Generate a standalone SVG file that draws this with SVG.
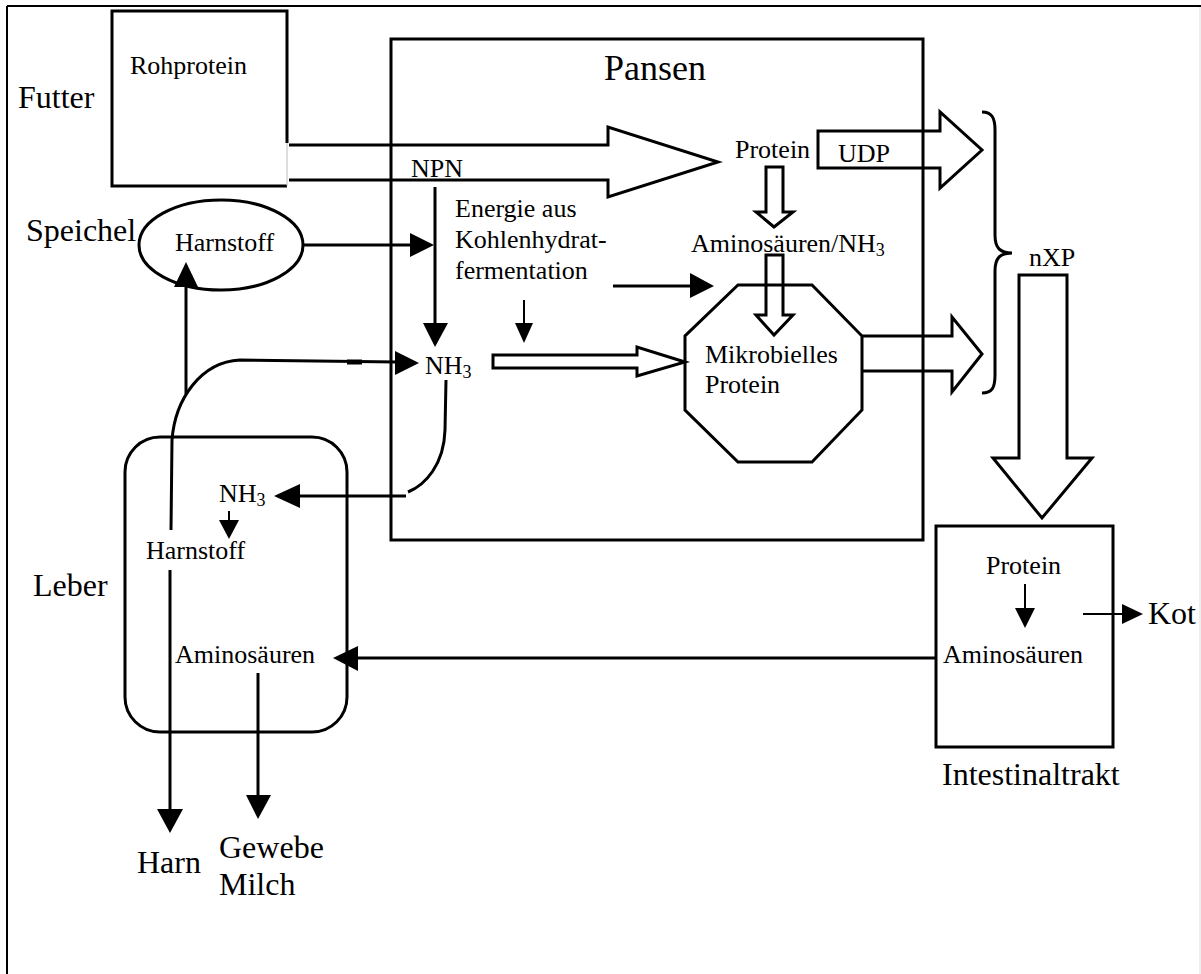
<svg xmlns="http://www.w3.org/2000/svg" width="1201" height="974" viewBox="0 0 1201 974">
<style>
text{font-family:"Liberation Serif","Times New Roman",serif;fill:#000}
.s{font-size:26px}
.l{font-size:32px}
.box{fill:none;stroke:#000;stroke-width:3}
.ln{fill:none;stroke:#000;stroke-width:3}
.thin{fill:none;stroke:#000;stroke-width:2}
.hollow{fill:none;stroke:#000;stroke-width:3;stroke-linejoin:miter}
.head{fill:#000;stroke:none}
</style>
<rect width="1201" height="974" fill="#fff"/>
<g id="frame">
<line x1="7" y1="6" x2="1201" y2="6" stroke="#000" stroke-width="2"/>
<line x1="7" y1="6" x2="7" y2="974" stroke="#000" stroke-width="2"/>
<line x1="1200" y1="7" x2="1200" y2="974" stroke="#ddd" stroke-width="1"/>
</g>
<g id="futter">
<text class="l" x="18" y="108">Futter</text>
<path class="box" d="M287,143 V11 H112 V186 H287"/>
<line x1="287" y1="143" x2="287" y2="186" stroke="#bbb" stroke-width="1"/>
<text class="s" x="130" y="74">Rohprotein</text>
</g>
<g id="pansen">
<rect class="box" x="391" y="39" width="532" height="501"/>
<text x="604" y="80" style="font-size:36px">Pansen</text>
<text class="s" x="411" y="177">NPN</text>
<text class="s" x="455" y="217">Energie aus</text>
<text class="s" x="455" y="248">Kohlenhydrat-</text>
<text class="s" x="455" y="279">fermentation</text>
<text class="s" x="735" y="158">Protein</text>
<text class="s" x="838" y="162">UDP</text>
<text class="s" x="691" y="252">Aminosäuren/NH<tspan font-size="18" dy="4">3</tspan></text>
<text class="s" x="425" y="374">NH<tspan font-size="18" dy="4">3</tspan></text>
</g>
<g id="mikrobielles">
<polygon class="box" points="738,285 812,285 862,336 862,410 812,462 738,462 685,410 685,336"/>
<text class="s" x="705" y="363">Mikrobielles</text>
<text class="s" x="705" y="393">Protein</text>
</g>
<g id="speichel">
<text class="l" x="26" y="241">Speichel</text>
<ellipse class="box" cx="221" cy="245" rx="82" ry="45"/>
<text class="s" x="175" y="251">Harnstoff</text>
</g>
<g id="leber">
<rect class="box" x="125" y="437" width="222" height="295" rx="35" ry="35"/>
<text class="l" x="33" y="596">Leber</text>
<text class="s" x="219" y="502">NH<tspan font-size="18" dy="4">3</tspan></text>
<text class="s" x="146" y="559">Harnstoff</text>
<text class="s" x="175" y="663">Aminosäuren</text>
</g>
<g id="intestinaltrakt">
<rect class="box" x="936" y="526" width="177" height="221"/>
<text class="s" x="986" y="574">Protein</text>
<text class="s" x="943" y="663">Aminosäuren</text>
<text class="l" x="942" y="785">Intestinaltrakt</text>
</g>
<g id="outputs">
<text class="l" x="137" y="873">Harn</text>
<text class="l" x="219" y="858">Gewebe</text>
<text class="l" x="219" y="895">Milch</text>
<text class="l" x="1148" y="624">Kot</text>
<text class="s" x="1029" y="266">nXP</text>
</g>
<g id="connectors">
<path class="hollow" d="M289,145 H608 V127 L718,162 L608,197 V180 H289"/>
<path class="hollow" d="M818,131 H940 V112 L982,150 L940,188 V168 H818 Z"/>
<path class="hollow" d="M862,336 H952 V317 L982,354 L952,392 V371 H862"/>
<path class="hollow" d="M1019,275 H1067 V458 H1092 L1042,518 L993,458 H1019 Z" fill="#fff"/>
<path class="hollow" d="M766,167 H783 V212 H793 L774,227 L756,212 H766 Z"/>
<path class="hollow" d="M766,255 H783 V315 H793 L774,335 L756,315 H766 Z"/>
<path class="hollow" d="M493,355 H637 V347 L685,362 L637,376 V368 H493 Z"/>
<path class="ln" d="M982,112 C992,112 995,118 995,130 V235 C995,248 1000,253 1012,253 C1000,253 995,258 995,271 V375 C995,388 992,393 982,393"/>
<line class="ln" x1="435" y1="187" x2="435" y2="325"/>
<polygon class="head" points="423,323 448,323 435,347"/>
<line class="ln" x1="303" y1="245" x2="412" y2="245"/>
<polygon class="head" points="410,233 410,257 434,245"/>
<line class="ln" x1="613" y1="286" x2="692" y2="286"/>
<polygon class="head" points="690,273 690,298 714,286"/>
<line class="thin" x1="524" y1="300" x2="524" y2="325"/>
<polygon class="head" points="515,323 533,323 524,343"/>
<line class="ln" x1="186" y1="394" x2="186" y2="285"/>
<polygon class="head" points="174,287 198,287 186,262"/>
<path class="ln" d="M171,530 L172,440 C175,400 200,362 240,360 L397,362"/>
<line x1="347" y1="362" x2="362" y2="362" stroke="#000" stroke-width="5"/>
<polygon class="head" points="395,351 395,375 419,363"/>
<path class="ln" d="M446,380 L445,430 C444,465 425,485 408,492"/>
<line class="ln" x1="406" y1="496" x2="298" y2="496"/>
<polygon class="head" points="300,484 300,508 274,496"/>
<line class="thin" x1="229" y1="511" x2="229" y2="522"/>
<polygon class="head" points="219,520 239,520 229,539"/>
<line class="ln" x1="170" y1="570" x2="170" y2="811"/>
<polygon class="head" points="157,809 183,809 170,833"/>
<line class="ln" x1="258" y1="673" x2="258" y2="797"/>
<polygon class="head" points="246,795 271,795 258,819"/>
<line class="ln" x1="937" y1="658" x2="356" y2="658"/>
<polygon class="head" points="358,646 358,671 333,658"/>
<line class="thin" x1="1025" y1="584" x2="1025" y2="610"/>
<polygon class="head" points="1015,608 1035,608 1025,628"/>
<line class="thin" x1="1083" y1="614" x2="1124" y2="614"/>
<polygon class="head" points="1122,604 1122,624 1143,614"/>
</g>
</svg>
